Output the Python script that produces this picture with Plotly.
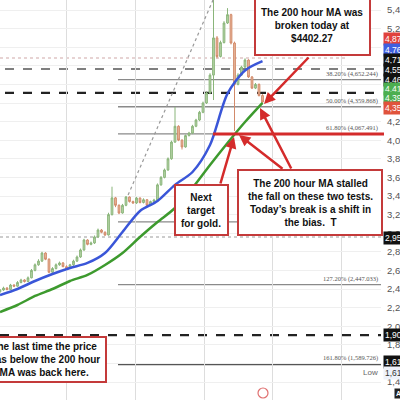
import plotly.graph_objects as go

# ---- data -------------------------------------------------------------------

bars = list(range(76))

opens = [2370, 2389, 2410, 2395, 2443, 2430, 2470, 2497, 2480, 2520,
         2600, 2660, 2700, 2787, 2720, 2580, 2620, 2660, 2680, 2640,
         2626, 2660, 2700, 2744, 2820, 2927, 2880, 2895, 2960, 3034,
         3010, 2981, 3200, 3380, 3300, 3217, 3300, 3389, 3340, 3325,
         3378, 3330, 3360, 3300, 3340, 3357, 3520, 3600, 3680, 3800,
         3980, 4150, 4000, 3927, 4050, 4077, 4150, 4217, 4300, 4400,
         4508, 4700, 5100, 4900, 5050, 5260, 5350, 5045, 4600, 4700,
         4787, 4862, 4680, 4560, 4600, 4480]
highs = [2400, 2425, 2420, 2455, 2450, 2485, 2510, 2505, 2535, 2615,
         2675, 2720, 2800, 2795, 2730, 2635, 2675, 2695, 2690, 2655,
         2670, 2715, 2760, 2835, 2940, 2935, 2910, 2975, 3050, 3045,
         3020, 3220, 3500, 3390, 3310, 3315, 3400, 3395, 3350, 3390,
         3385, 3375, 3365, 3350, 3370, 3535, 3615, 3695, 3815, 3995,
         4357, 4160, 4010, 4060, 4090, 4165, 4230, 4315, 4415, 4525,
         4720, 5550, 5120, 5070, 5280, 5420, 5360, 5060, 4720, 4800,
         4880, 4870, 4690, 4615, 4610, 4495]
lows = [2360, 2380, 2385, 2390, 2420, 2425, 2460, 2470, 2475, 2515,
        2590, 2650, 2690, 2710, 2570, 2570, 2610, 2650, 2635, 2615,
        2615, 2650, 2690, 2735, 2810, 2870, 2870, 2885, 2950, 3000,
        2970, 2975, 3190, 3280, 3205, 3210, 3290, 3330, 3315, 3315,
        3320, 3320, 3290, 3290, 3330, 3350, 3510, 3590, 3670, 3790,
        3970, 3990, 3900, 3920, 4040, 4065, 4140, 4205, 4290, 4390,
        4495, 4432, 4880, 4890, 5040, 5250, 5030, 4100, 4590, 4690,
        4775, 4670, 4550, 4550, 4470, 4395]
closes = [2389, 2410, 2395, 2443, 2430, 2470, 2497, 2480, 2520, 2600,
          2660, 2700, 2787, 2720, 2580, 2620, 2660, 2680, 2640, 2626,
          2660, 2700, 2744, 2820, 2927, 2880, 2895, 2960, 3034, 3010,
          2981, 3200, 3380, 3300, 3217, 3300, 3389, 3340, 3325, 3378,
          3330, 3360, 3300, 3340, 3357, 3520, 3600, 3680, 3800, 3980,
          4150, 4000, 3927, 4050, 4077, 4150, 4217, 4300, 4400, 4508,
          4700, 5100, 4900, 5050, 5260, 5350, 5045, 4600, 4700, 4787,
          4862, 4680, 4560, 4600, 4480, 4411]

ma_bars = [0, 5, 10, 15, 20, 25, 30, 35, 40, 45, 50, 55, 60, 65, 70, 75]
ma100 = [2335, 2400, 2486, 2561, 2626, 2680, 2787, 3013, 3239, 3346,
         3520, 3658, 3948, 4500, 4750, 4850]
ma200 = [2153, 2228, 2325, 2400, 2486, 2551, 2658, 2787, 2959, 3120,
         3271, 3486, 3733, 3970, 4196, 4402]

trend_x = [36.6, 61.0]
trend_y = [3411, 5520]

fib_pcts = ["38.20%", "50.00%", "61.80%", "100.00%", "127.20%", "161.80%"]
fib_prices = [4652.244, 4359.868, 4067.491, 3121.0, 2447.033, 1589.726]

dash_prices = [4884, 4766, 4508, 2959, 1905]

axis_tags = ["4,873.40", "4,765.12", "4,712.30", "4,552.80", "4,468.10",
             "4,418.60", "4,396.20", "4,352.70", "2,959.40", "1,905.20", "1,614.90"]
axis_tag_prices = [5088, 4970, 4862, 4755, 4647, 4550, 4454, 4346, 2948, 1905, 1615]
axis_tag_colors = ["#e0413c", "#3f5fe0", "#111111", "#111111", "#111111",
                   "#4caf50", "#4caf50", "#e0533c", "#111111", "#111111", "#111111"]

# ---- helpers ----------------------------------------------------------------

PW, PH = 381, 400
BAR_PX = 3.5
RED = "#d42b2b"
BOX_RED = "#c43a3a"


def px(x):
    return x / PW


def py(y):
    return 1 - y / PH


def add_box(fig, x0, y0, x1, y1, lines, cx):
    fig.add_shape(type="rect", xref="paper", yref="paper",
                  x0=px(x0), x1=px(x1), y0=py(y1), y1=py(y0),
                  line=dict(color=BOX_RED, width=2), fillcolor="white", layer="above")
    fig.add_annotation(xref="paper", yref="paper", x=px(cx), y=py((y0 + y1) / 2),
                       xanchor="center", yanchor="middle",
                       text="<br>".join(f"<b>{t}</b>" for t in lines),
                       showarrow=False, align="center",
                       font=dict(family="Liberation Sans", size=10, color="#111"))


def add_arrow(fig, tip, tail):
    fig.add_annotation(xref="paper", yref="paper", x=px(tip[0]), y=py(tip[1]),
                       ax=tail[0] - tip[0], ay=tail[1] - tip[1], text="",
                       showarrow=True, arrowhead=2, arrowsize=0.9, arrowwidth=2.5,
                       arrowcolor=RED, standoff=0)


# ---- figure -----------------------------------------------------------------

fig = go.Figure()

fig.add_trace(go.Candlestick(
    x=bars, open=opens, high=highs, low=lows, close=closes,
    increasing=dict(line=dict(color="#8ab57a", width=1), fillcolor="#b9d6a8"),
    decreasing=dict(line=dict(color="#d28a6a", width=1), fillcolor="#e9bca0"),
    whiskerwidth=0, showlegend=False,
))
fig.add_trace(go.Scatter(x=ma_bars, y=ma100, mode="lines",
                         line=dict(color="#3a56d8", width=2.5, shape="spline", smoothing=0.8),
                         showlegend=False))
fig.add_trace(go.Scatter(x=ma_bars, y=ma200, mode="lines",
                         line=dict(color="#3d9a2e", width=2.5, shape="spline", smoothing=0.8),
                         showlegend=False))
fig.add_trace(go.Scatter(x=trend_x, y=trend_y, mode="lines",
                         line=dict(color="#999", width=1.2, dash="dot"), showlegend=False))

# horizontal level lines
x_start = 118 / BAR_PX
x_end = PW / BAR_PX
for pct, p in zip(fib_pcts, fib_prices):
    heavy = pct == "161.80%"
    fig.add_shape(type="line", xref="x", yref="y", x0=x_start, x1=x_end, y0=p, y1=p,
                  line=dict(color="#555" if heavy else "#8a8a8a", width=2 if heavy else 1.3),
                  layer="below")
    if pct != "100.00%":
        fig.add_annotation(xref="paper", yref="y", x=0.997, y=p, xanchor="right", yanchor="bottom",
                           text=f"{pct} ({p:,.3f})", showarrow=False,
                           font=dict(family="Liberation Serif", size=6.5, color="#555"))

dash_styles = [("#d0a8a8", 1.2, "dot", 0, 345),
               ("#555", 1.5, "dash", 5, 381),
               ("#222", 2.2, "dash", 5, 381),
               ("#999", 1.0, "dot", 0, 381),
               ("#222", 2.2, "dash", 0, 381)]
for p, (c, w, d, a, b) in zip(dash_prices, dash_styles):
    fig.add_shape(type="line", xref="x", yref="y", x0=a / BAR_PX, x1=b / BAR_PX, y0=p, y1=p,
                  line=dict(color=c, width=w, dash=d), layer="below")

# red 61.8% emphasis line
fig.add_shape(type="line", xref="paper", yref="y", x0=px(213), x1=px(384),
              y0=fib_prices[2], y1=fib_prices[2], line=dict(color=RED, width=3), layer="above")

# axis price tags (clipped by the right edge like the source screenshot)
for t, p, c in zip(axis_tags, axis_tag_prices, axis_tag_colors):
    fig.add_annotation(xref="paper", yref="y", x=1, y=p, xanchor="left", yanchor="middle",
                       xshift=2, text=t, showarrow=False, bgcolor=c, borderpad=1,
                       font=dict(family="Liberation Sans", size=8.5, color="white"))
fig.add_annotation(xref="paper", yref="y", x=px(380), y=1497, xanchor="right", yanchor="middle",
                   text="Low", showarrow=False,
                   font=dict(family="Liberation Sans", size=8, color="#666"))
fig.add_annotation(xref="paper", yref="y", x=1, y=1497, xanchor="left", yanchor="middle", xshift=2,
                   text="1,614.90", showarrow=False, bgcolor="#eef2fa",
                   font=dict(family="Liberation Sans", size=8.5, color="#333"))
fig.add_annotation(xref="paper", yref="paper", x=px(394), y=py(393),
                   xanchor="left", yanchor="middle",
                   text="<b>A</b>", showarrow=False, bgcolor="#222", borderpad=1,
                   font=dict(family="Liberation Sans", size=7, color="white"))
fig.add_shape(type="circle", xref="paper", yref="paper",
              x0=px(258), x1=px(268), y0=py(398), y1=py(388),
              line=dict(color="#e07070", width=1.2))

# annotation boxes
add_box(fig, 255, -3, 370, 55,
        ["The 200 hour MA was", "broken today at", "$4402.27"], 312)
add_box(fig, 175, 185, 228, 235, ["Next", "target", "for gold."], 201)
add_box(fig, 238, 170, 382, 235,
        ["The 200 hour MA stalled", "the fall on these two tests.",
         "Today\u2019s break is a shift in", "the bias.  T"], 310)
add_box(fig, -40, 337, 106, 382,
        ["The last time the price", "was below the 200 hour", "MA was back here."], 43)

add_arrow(fig, (264, 104), (310, 56))
add_arrow(fig, (234, 137), (220, 185))
add_arrow(fig, (239, 135), (284, 170))
add_arrow(fig, (260, 108), (292, 170))

fig.update_xaxes(range=[0, PW / BAR_PX], showticklabels=False, showgrid=True,
                 gridcolor="#dddddd", gridwidth=1, tick0=19.14, dtick=19.6,
                 zeroline=False, rangeslider=dict(visible=False), showline=False,
                 automargin=False)
fig.update_yaxes(range=[1206.5, 5507.5], side="right", dtick=200, tickformat=",d",
                 showgrid=True, gridcolor="#efefef", zeroline=False, ticks="",
                 ticklabelstandoff=5, automargin=False,
                 tickfont=dict(family="Liberation Sans", size=9.5, color="#555"))
fig.update_layout(width=400, height=400, margin=dict(l=0, r=19, t=0, b=0),
                  plot_bgcolor="white", paper_bgcolor="white", showlegend=False)

# drop the browser's default body margin so the figure sits at the page corner
fig.write_html("out.html", config={"displayModeBar": False},
               post_script="document.body.style.margin='0';")
